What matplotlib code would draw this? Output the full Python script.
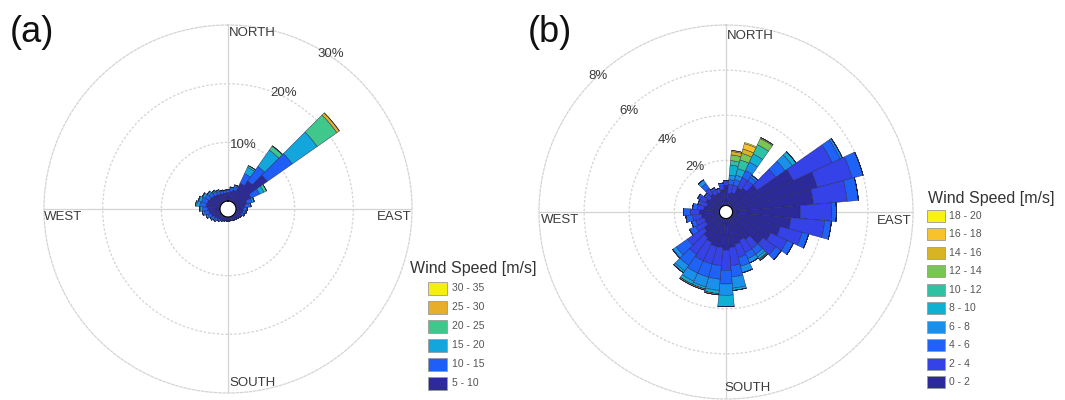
import numpy as np
import matplotlib
matplotlib.use("Agg")
import matplotlib.pyplot as plt
from matplotlib.patches import Rectangle

plt.rcParams['font.family'] = ['Liberation Sans', 'DejaVu Sans']

W, H = 1065, 400

# ---------------- data ----------------
directions = list(range(0, 360, 10))  # bin centres, degrees from north, clockwise

# Panel (a): frequency (%) per direction for each wind speed class
a_labels = ["5 - 10", "10 - 15", "15 - 20", "20 - 25", "25 - 30", "30 - 35"]
a_colors = ["#2d2b9c", "#1f5ff8", "#12a6dc", "#3fc78c", "#e6ae2a", "#f6ee12"]
a_5_10 = [1.5, 1.7, 2.0, 3.5, 4.5, 6.8, 3.0, 2.0, 1.6, 1.3, 1.2, 1.1, 0.9, 0.8, 0.7, 0.6, 0.5, 0.5,
          0.5, 0.5, 0.6, 0.7, 0.9, 1.1, 1.3, 1.6, 1.9, 2.1, 2.4, 2.3, 2.1, 1.9, 1.7, 1.5, 1.4, 1.4]
a_10_15 = [0.4, 0.5, 0.6, 1.8, 3.0, 5.2, 1.6, 0.9, 0.7, 0.5, 0.4, 0.3, 0.2, 0.2, 0.2, 0.2, 0.2, 0.2,
           0.2, 0.2, 0.2, 0.3, 0.3, 0.4, 0.5, 0.6, 0.8, 0.9, 1.1, 1.0, 0.9, 0.7, 0.6, 0.5, 0.4, 0.4]
a_15_20 = [0.1, 0.2, 0.2, 1.2, 3.4, 5.2, 0.8, 0.3, 0.2, 0.1, 0.1, 0.1, 0.1, 0.0, 0.0, 0.0, 0.0, 0.0,
           0.0, 0.0, 0.0, 0.0, 0.1, 0.2, 0.2, 0.3, 0.3, 0.4, 0.5, 0.5, 0.4, 0.3, 0.2, 0.2, 0.1, 0.1]
a_20_25 = [0.0, 0.0, 0.1, 0.3, 0.8, 4.1, 0.5, 0.1, 0.1, 0.1, 0.1, 0.1, 0.0, 0.0, 0.0, 0.0, 0.0, 0.0,
           0.0, 0.0, 0.0, 0.0, 0.0, 0.0, 0.0, 0.0, 0.0, 0.1, 0.2, 0.1, 0.1, 0.1, 0.1, 0.1, 0.1, 0.0]
a_25_30 = [0.0, 0.0, 0.0, 0.0, 0.1, 0.5, 0.0, 0.0, 0.0, 0.0, 0.0, 0.0, 0.0, 0.0, 0.0, 0.0, 0.0, 0.0,
           0.0, 0.0, 0.0, 0.0, 0.0, 0.0, 0.0, 0.0, 0.0, 0.0, 0.0, 0.0, 0.0, 0.0, 0.0, 0.0, 0.0, 0.0]
a_30_35 = [0.0, 0.0, 0.0, 0.0, 0.0, 0.05, 0.0, 0.0, 0.0, 0.0, 0.0, 0.0, 0.0, 0.0, 0.0, 0.0, 0.0, 0.0,
           0.0, 0.0, 0.0, 0.0, 0.0, 0.0, 0.0, 0.0, 0.0, 0.0, 0.0, 0.0, 0.0, 0.0, 0.0, 0.0, 0.0, 0.0]
a_rings = [10, 20, 30]

# Panel (b)
b_labels = ["0 - 2", "2 - 4", "4 - 6", "6 - 8", "8 - 10", "10 - 12", "12 - 14", "14 - 16", "16 - 18", "18 - 20"]
b_colors = ["#2c2a98", "#3442e8", "#1f62f8", "#1a90ea", "#10b0d2", "#2ec2a2", "#78c654", "#d8b424", "#f8c22a", "#f8f212"]
b_0_2 = [0.9, 0.55, 0.6, 0.9, 1.0, 1.4, 3.0, 3.9, 3.6, 3.0, 2.6, 2.2, 1.9, 1.7, 1.2, 1.1, 1.2, 1.3,
         1.4, 1.3, 1.3, 1.2, 1.1, 0.9, 0.7, 0.7, 0.8, 0.9, 0.7, 0.6, 0.7, 0.6, 0.7, 0.6, 0.6, 0.7]
b_2_4 = [0.15, 0.4, 0.35, 0.5, 0.4, 1.0, 1.9, 1.6, 1.5, 1.4, 1.5, 1.0, 0.8, 0.7, 0.5, 0.6, 0.6, 0.8,
         0.9, 0.8, 0.8, 0.9, 0.9, 0.9, 0.5, 0.4, 0.4, 0.4, 0.3, 0.3, 0.3, 0.2, 0.3, 0.2, 0.2, 0.2]
b_4_6 = [0.05, 0.2, 0.25, 0.35, 0.2, 0.5, 0.4, 0.5, 0.5, 0.2, 0.3, 0.3, 0.3, 0.3, 0.3, 0.3, 0.4, 0.5,
         0.6, 0.6, 0.6, 0.6, 0.6, 0.6, 0.3, 0.2, 0.3, 0.3, 0.2, 0.1, 0.1, 0.1, 0.25, 0.1, 0.0, 0.1]
b_6_8 = [0.0, 0.2, 0.2, 0.4, 0.1, 0.4, 0.1, 0.0, 0.0, 0.0, 0.0, 0.0, 0.0, 0.0, 0.15, 0.2, 0.3, 0.5,
         0.5, 0.5, 0.45, 0.4, 0.3, 0.2, 0.0, 0.0, 0.0, 0.0, 0.0, 0.0, 0.0, 0.0, 0.2, 0.0, 0.0, 0.0]
b_8_10 = [0.0, 0.45, 0.3, 0.4, 0.0, 0.2, 0.0, 0.0, 0.0, 0.0, 0.0, 0.0, 0.0, 0.0, 0.1, 0.0, 0.0, 0.1,
          0.5, 0.15, 0.1, 0.15, 0.1, 0.0, 0.0, 0.0, 0.0, 0.0, 0.0, 0.0, 0.0, 0.0, 0.0, 0.0, 0.0, 0.0]
b_10_12 = [0.0, 0.2, 0.4, 0.45, 0.0, 0.0, 0.0, 0.0, 0.0, 0.0, 0.0, 0.0, 0.0, 0.0, 0.03, 0.0, 0.0, 0.0,
           0.0, 0.0, 0.0, 0.0, 0.0, 0.0, 0.0, 0.0, 0.0, 0.0, 0.0, 0.0, 0.0, 0.0, 0.0, 0.0, 0.0, 0.0]
b_12_14 = [0.0, 0.25, 0.3, 0.3, 0.0, 0.0, 0.0, 0.0, 0.0, 0.0, 0.0, 0.0, 0.0, 0.0, 0.03, 0.0, 0.0, 0.0,
           0.0, 0.0, 0.0, 0.0, 0.0, 0.0, 0.0, 0.0, 0.0, 0.0, 0.0, 0.0, 0.0, 0.0, 0.0, 0.0, 0.0, 0.0]
b_14_16 = [0.0, 0.15, 0.2, 0.05, 0.0, 0.0, 0.0, 0.0, 0.0, 0.0, 0.0, 0.0, 0.0, 0.0, 0.03, 0.0, 0.0, 0.0,
           0.0, 0.05, 0.05, 0.05, 0.0, 0.0, 0.0, 0.0, 0.0, 0.0, 0.0, 0.0, 0.0, 0.0, 0.0, 0.0, 0.0, 0.0]
b_16_18 = [0.0, 0.05, 0.25, 0.0, 0.0, 0.0, 0.0, 0.0, 0.0, 0.0, 0.0, 0.0, 0.0, 0.0, 0.0, 0.0, 0.0, 0.0,
           0.0, 0.0, 0.0, 0.0, 0.0, 0.0, 0.0, 0.0, 0.0, 0.0, 0.0, 0.0, 0.0, 0.0, 0.0, 0.0, 0.0, 0.0]
b_18_20 = [0.0, 0.0, 0.05, 0.0, 0.0, 0.0, 0.0, 0.0, 0.0, 0.0, 0.0, 0.0, 0.0, 0.0, 0.0, 0.0, 0.0, 0.0,
           0.0, 0.0, 0.0, 0.0, 0.0, 0.0, 0.0, 0.0, 0.0, 0.0, 0.0, 0.0, 0.0, 0.0, 0.0, 0.0, 0.0, 0.0]
b_rings = [2, 4, 6, 8]

a_series = [a_5_10, a_10_15, a_15_20, a_20_25, a_25_30, a_30_35]
b_series = [b_0_2, b_2_4, b_4_6, b_6_8, b_8_10, b_10_12, b_12_14, b_14_16, b_16_18, b_18_20]

# ---------------- drawing ----------------
fig = plt.figure(figsize=(W / 100, H / 100), dpi=100)

GRID = "#d4d4d4"
TXT = "#3a3a3a"


def make_rose(cx, cy, R, rmax, hole, rings, series, colors, ring_label_pos):
    ax = fig.add_axes([(cx - R) / W, (H - cy - R) / H, 2 * R / W, 2 * R / H], projection="polar")
    ax.set_theta_zero_location("N")
    ax.set_theta_direction(-1)
    ax.set_ylim(0, rmax)
    ax.set_rorigin(-hole)
    ax.set_yticks(rings[:-1])
    ax.set_yticklabels([])
    ax.set_xticks(np.deg2rad([0, 90, 180, 270]))
    ax.set_xticklabels([])
    ax.yaxis.grid(True, color=GRID, lw=0.9, ls=(0, (2, 1.5)))
    ax.xaxis.grid(True, color=GRID, lw=0.9, ls="-")
    ax.spines["polar"].set_color(GRID)
    ax.spines["polar"].set_linewidth(0.9)
    ax.spines["polar"].set_linestyle((0, (2, 1.5)))
    ax.set_axisbelow(True)
    ax.tick_params(length=0)
    theta = np.deg2rad(directions)
    width = np.deg2rad(10)
    bottom = np.zeros(len(directions))
    for vals, col in zip(series, colors):
        v = np.array(vals, dtype=float)
        ax.bar(theta, v, width=width, bottom=bottom, color=col,
               edgecolor="#22224a", linewidth=0.3, align="center")
        bottom = bottom + v

    def px(dx, dy):
        return 0.5 + dx / (2 * R), 0.5 - dy / (2 * R)

    for (lab, dx, dy) in ring_label_pos:
        x, y = px(dx, dy)
        ax.text(x, y, lab, transform=ax.transAxes, ha="center", va="center",
                fontsize=9.5, color=TXT)
    return ax, px


axa, pxa = make_rose(228, 209, 184, 30, 1.36, a_rings, a_series, a_colors,
                     [("10%", 15, -64), ("20%", 56, -116), ("30%", 103, -155)])
axb, pxb = make_rose(726, 212, 187, 8, 0.29, b_rings, b_series, b_colors,
                     [("2%", -31, -45), ("4%", -59, -72), ("6%", -97, -101), ("8%", -128, -136)])


def compass(ax, px, n, w, e, s):
    for (lab, dx, dy, ha) in [("NORTH",) + n + ("left",), ("WEST",) + w + ("left",),
                              ("EAST",) + e + ("right",), ("SOUTH",) + s + ("left",)]:
        x, y = px(dx, dy)
        ax.text(x, y, lab, transform=ax.transAxes, ha=ha, va="center", fontsize=9.5, color=TXT)


compass(axa, pxa, (1, -176), (-184, 8), (184, 8), (1, 174))
compass(axb, pxb, (1, -176), (-185, 8), (186, 9), (-2, 176))

# panel labels
fig.text(10 / W, 1 - 33 / H, "(a)", fontsize=26, ha="left", va="center", color="#111111")
fig.text(528 / W, 1 - 32 / H, "(b)", fontsize=26, ha="left", va="center", color="#111111")


# legends
def legend(title_xy, box_x, y_top, y_step, labels, colors, box_w, box_h, label_x):
    fig.text(title_xy[0] / W, 1 - title_xy[1] / H, "Wind Speed [m/s]", fontsize=11.5,
             ha="left", va="center", color="#333333")
    n = len(labels)
    for i, (lab, col) in enumerate(zip(labels[::-1], colors[::-1])):
        y = y_top + i * y_step
        fig.add_artist(Rectangle((box_x / W, 1 - (y + box_h / 2) / H), box_w / W, box_h / H,
                                 transform=fig.transFigure, facecolor=col,
                                 edgecolor="#9a9a9a", linewidth=0.6))
        fig.text(label_x / W, 1 - y / H, lab, fontsize=7.5, ha="left", va="center", color="#555555")


legend((410, 268), 428, 288, 19.0, a_labels, a_colors, 19, 13, 452)
legend((928, 198), 927, 216, 18.45, b_labels, b_colors, 18, 12, 949)

fig.savefig("out.png", dpi=100)
